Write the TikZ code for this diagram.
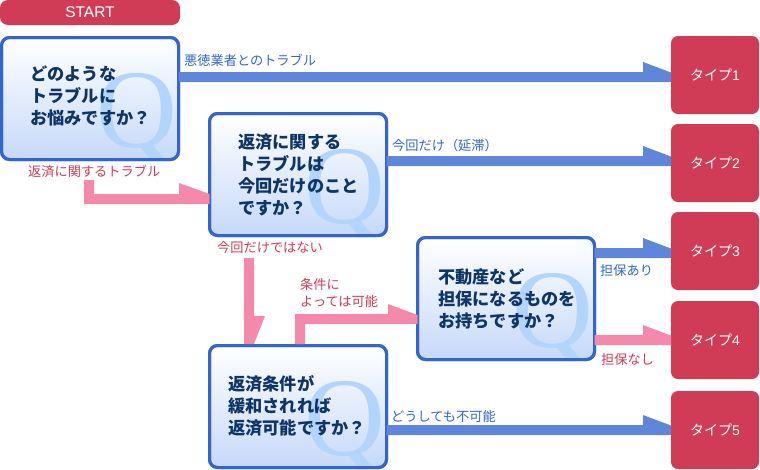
\documentclass[tikz,border=0pt]{standalone}
\usepackage{fontspec}
\setmainfont{Noto Sans CJK JP}
\newfontfamily\latinf{Liberation Sans}
\newfontfamily\qfont{Liberation Serif}
\usetikzlibrary{calc,fadings}
\definecolor{bordb}{HTML}{3366CC}
\definecolor{gradb}{HTML}{C6D9F9}
\definecolor{qb}{HTML}{B4D5FB}
\definecolor{ink}{HTML}{0F3566}
\definecolor{crim}{HTML}{D03B55}
\definecolor{arrb}{HTML}{5F86D9}
\definecolor{arrp}{HTML}{F489AC}
\tikzset{
  qbox/.style={rectangle,rounded corners=8pt,minimum width=177pt,minimum height=122pt,outer sep=0pt,inner sep=0pt,draw=bordb,line width=3pt,top color=white,bottom color=gradb,anchor=north west},
  qtext/.style={anchor=north west,align=left,inner sep=0pt,text=ink,font=\fontsize{17.2}{22}\selectfont\bfseries,text depth=0pt},
  qmark/.style={inner sep=0pt,text=qb,font=\fontsize{112}{112}\qfont,anchor=base west},
  tbox/.style={rectangle,rounded corners=7pt,fill=crim,minimum width=88pt,minimum height=78pt,outer sep=0pt,inner sep=0pt,text=white,font=\fontsize{14}{16}\selectfont,anchor=north west},
  lblb/.style={anchor=west,inner sep=0pt,text=bordb,font=\fontsize{13.2}{17}\selectfont,align=left},
  lblp/.style={anchor=west,inner sep=0pt,text=crim,font=\fontsize{13.2}{17}\selectfont,align=left},
}
% from, to, y of bar top, colour
\newcommand{\harrow}[4]{\fill[#4] (#1.east |- 0,#3) -- ($(#2.west |- 0,#3)+(-28,0)$) -- ($(#2.west |- 0,#3)+(-28,-10)$) -- ($(#2.west |- 0,#3)+(0,0.5)$) -- ($(#2.west |- 0,#3)+(0,10)$) -- (#1.east |- 0,#3+10) -- cycle;}
\newcommand{\qb}[6]{% name, x, y, text x, text y, text
  \node[qbox] (#1) at (#2+1.5,#3+1.5) {};
  \begin{scope}
    \clip[rounded corners=7pt] (#1.north west) rectangle (#1.south east);
    \begin{scope}[scope fading=south,fading transform={shift={(#2+135,#3+80)},yscale=1.1,xscale=1.6}]
      \node[qmark] (#1q) at (#2+96,#3+111) {Q};
    \end{scope}
  \end{scope}
  \draw[bordb,line width=3pt,rounded corners=8pt] (#1.north west) rectangle (#1.south east);
  \node[qtext] (#1t) at (#4,#5) {#6};
}
\begin{document}
\begin{tikzpicture}[x=1pt,y=-1pt]
\useasboundingbox (0,0) rectangle (760,469);
\node[tbox,minimum width=180pt,minimum height=25pt,rounded corners=8pt,font=\fontsize{15.5}{17}\latinf] (start) at (0,0) {START};
\node[tbox] (t1) at (671,36) {タイプ{\latinf 1}};
\node[tbox] (t2) at (671,124) {タイプ{\latinf 2}};
\node[tbox] (t3) at (671,212) {タイプ{\latinf 3}};
\node[tbox] (t4) at (671,301) {タイプ{\latinf 4}};
\node[tbox] (t5) at (671,391) {タイプ{\latinf 5}};
\qb{q1}{0}{36}{30}{66}{どのような\\トラブルに\\お悩みですか？}
\qb{q2}{208}{112}{238}{134}{返済に関する\\トラブルは\\今回だけのこと\\ですか？}
\qb{q3}{416}{236}{438}{269}{不動産など\\担保になるものを\\お持ちですか？}
\qb{q4}{208}{344}{228}{375}{返済条件が\\緩和されれば\\返済可能ですか？}
\harrow{q1}{t1}{72}{arrb}
\harrow{q2}{t2}{156}{arrb}
\harrow{q3}{t3}{248}{arrb}
\harrow{q3}{t4}{335}{arrp}
\harrow{q4}{t5}{425}{arrb}
% pink connectors
\fill[arrp] (84,180) -- (94,180) -- (94,194) -- (179,194) -- (179,183) -- (q2.west |- 0,194) -- (q2.west |- 0,204) -- (84,204) -- cycle;
\fill[arrp] (244,258) -- (254,258) -- (254,316) -- (265,316) -- (254,344) -- (244,344) -- cycle;
\fill[arrp] (295,344) -- (295,314) -- (388,314) -- (388,304) -- (q3.west |- 0,315) -- (q3.west |- 0,324) -- (305,324) -- (305,344) -- cycle;
% labels
\node[lblb] (l1) at (184,60.5) {悪徳業者とのトラブル};
\node[lblp] (l2) at (28,171) {返済に関するトラブル};
\node[lblb] (l3) at (392,145) {今回だけ（延滞）};
\node[lblp] (l4) at (217,247) {今回だけではない};
\node[lblp,anchor=north west] (l5) at (300,278) {条件に\\よっては可能};
\node[lblb] (l6) at (600,270) {担保あり};
\node[lblp] (l7) at (601,359) {担保なし};
\node[lblb] (l8) at (391,416) {どうしても不可能};
\end{tikzpicture}
\end{document}
